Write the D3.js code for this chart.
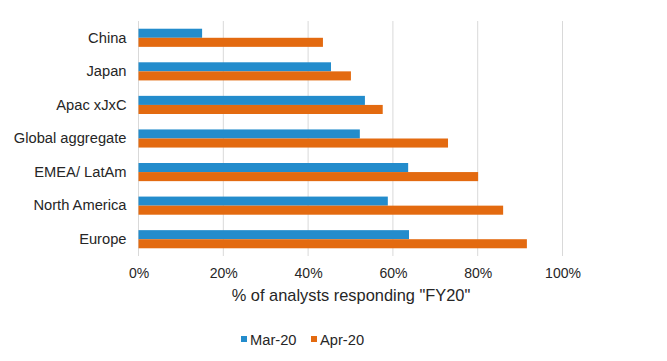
<!DOCTYPE html>
<html>
<head>
<meta charset="utf-8">
<script src="https://cdn.jsdelivr.net/npm/d3@7"></script>
<style>
  body { margin: 0; background: #fff; }
  text { font-family: "Liberation Sans", Arial, sans-serif; fill: #262626; }
</style>
</head>
<body>
<svg id="chart" width="667" height="361"></svg>
<script>
// regions, top to bottom
var regions = ["China", "Japan", "Apac xJxC", "Global aggregate", "EMEA/ LatAm", "North America", "Europe"];
var seriesNames = ["Mar-20", "Apr-20"];
var mar20 = [15.0, 45.4, 53.4, 52.2, 63.6, 58.8, 63.8];
var apr20 = [43.5, 50.1, 57.6, 73.0, 80.1, 86.0, 91.6];
var xTicks = [0, 20, 40, 60, 80, 100];
var colors = ["#238ccc", "#e36a10"];

var svg = d3.select("#chart");
var plotLeft = 138.5, plotRight = 562.5, plotTop = 21, plotBottom = 256;

var x = d3.scaleLinear().domain([0, 100]).range([plotLeft, plotRight]);
var y = d3.scaleBand().domain(regions).range([plotTop, plotBottom]).paddingInner(0.46).paddingOuter(0.23);
var sub = d3.scaleBand().domain(seriesNames).range([0, y.bandwidth()]);

// gridlines
svg.append("g")
   .selectAll("line")
   .data(xTicks)
   .enter().append("line")
   .attr("x1", function(d) { return x(d); })
   .attr("x2", function(d) { return x(d); })
   .attr("y1", plotTop)
   .attr("y2", plotBottom)
   .attr("stroke", "#d9d9d9")
   .attr("stroke-width", 1);

// bars
var series = [mar20, apr20];
series.forEach(function(vals, s) {
    svg.append("g")
       .selectAll("rect")
       .data(regions)
       .enter().append("rect")
       .attr("x", x(0))
       .attr("y", function(d) { return y(d) + sub(seriesNames[s]); })
       .attr("width", function(d, i) { return x(vals[i]) - x(0); })
       .attr("height", sub.bandwidth())
       .attr("fill", colors[s]);
});

// category labels
var yAxis = svg.append("g")
   .attr("transform", "translate(" + (plotLeft - 12) + ",0)")
   .call(d3.axisLeft(y).tickSize(0).tickPadding(0));
yAxis.select(".domain").remove();
yAxis.selectAll("text").attr("font-size", "14.7px").attr("fill", "#262626");

// x axis labels
var xAxis = svg.append("g")
   .attr("transform", "translate(0," + (plotBottom + 4) + ")")
   .call(d3.axisBottom(x).tickValues(xTicks).tickSize(0).tickPadding(8)
           .tickFormat(function(d) { return d + "%"; }));
xAxis.select(".domain").remove();
xAxis.selectAll("text").attr("font-size", "14px").attr("fill", "#262626");

svg.append("text")
   .attr("x", 351)
   .attr("y", 301)
   .attr("text-anchor", "middle")
   .attr("font-size", "16.4px")
   .text('% of analysts responding "FY20"');

// legend
var legendX = [241, 311];
seriesNames.forEach(function(name, s) {
    var lg = svg.append("g").attr("transform", "translate(" + legendX[s] + ",336)");
    lg.append("rect").attr("width", 6).attr("height", 6).attr("fill", colors[s]);
    lg.append("text").attr("x", 9).attr("y", 8.5).attr("font-size", "14.7px").text(name);
});
</script>
</body>
</html>
